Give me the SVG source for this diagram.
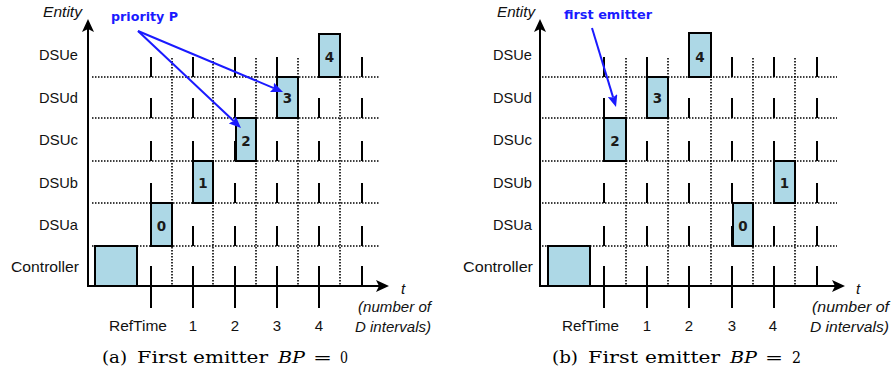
<svg xmlns="http://www.w3.org/2000/svg" width="893" height="375" viewBox="0 0 893 375">
  <style>
    .lbl { font-family: "Liberation Sans", Arial, sans-serif; font-size: 15px; fill: #111; }
    .ital { font-family: "Liberation Sans", Arial, sans-serif; font-style: italic; font-size: 15px; fill: #111; }
    .num { font-family: "DejaVu Sans", Verdana, sans-serif; font-weight: bold; font-size: 13.5px; fill: #1a1a1a; text-anchor: middle; }
    .note { font-family: "DejaVu Sans", Verdana, sans-serif; font-weight: bold; font-size: 12.8px; fill: #1a1aff; }
    .cap { font-family: "DejaVu Serif", "Liberation Serif", serif; font-size: 16px; fill: #000; }
    .mi { font-style: italic; }
    .box { fill: #add8e6; stroke: #000; stroke-width: 2; }
    .tick { stroke: #000; stroke-width: 2; fill: none; }
    .dot { stroke: #000; stroke-width: 1.6; stroke-dasharray: 1.5 1.5; fill: none; }
    .axis { stroke: #000; stroke-width: 2; fill: none; }
    .ptr { stroke: #1a1aff; stroke-width: 2; fill: none; }
  </style>
  <defs>
    <marker id="axhead" viewBox="0 0 13 12" refX="3" refY="6" markerWidth="13" markerHeight="12" markerUnits="userSpaceOnUse" orient="auto">
      <path d="M0,0 L13,6 L0,12 L3,6 Z" fill="#000"/>
    </marker>
    <marker id="bluehead" viewBox="0 0 12 10" refX="2" refY="5" markerWidth="12" markerHeight="10" markerUnits="userSpaceOnUse" orient="auto">
      <path d="M0,0 L12,5 L0,10 L2,5 Z" fill="#1a1aff"/>
    </marker>
  </defs>

  <!-- ===== Panel (a) ===== -->
  <g id="grid-a">
    <!-- row separators -->
    <path class="dot" d="M92,77H380 M92,118H380 M92,161H380 M92,203H380 M92,246H380"/>
    <!-- interval midlines -->
    <path class="dot" d="M172,58V286 M213,58V286 M256,58V286 M298,58V286 M340,58V286"/>
    <!-- slot ticks per row -->
    <path class="tick" d="
      M151,57V77 M193,57V77 M235,57V77 M277,57V77 M319,57V77 M362,57V77
      M151,98V118 M193,98V118 M235,98V118 M277,98V118 M319,98V118 M362,98V118
      M151,141V161 M193,141V161 M235,141V161 M277,141V161 M319,141V161 M362,141V161
      M151,183V203 M193,183V203 M235,183V203 M277,183V203 M319,183V203 M362,183V203
      M151,226V246 M193,226V246 M235,226V246 M277,226V246 M319,226V246 M362,226V246
      M151,266V308 M193,266V308 M235,266V308 M277,266V308 M319,266V308 M362,266V286"/>
  </g>
  <g id="axes-a">
    <line class="axis" x1="88" y1="287" x2="88" y2="29" marker-end="url(#axhead)"/>
    <line class="axis" x1="87" y1="286" x2="379" y2="286" marker-end="url(#axhead)"/>
    <text class="ital" x="43" y="17" font-size="13.5" textLength="39" lengthAdjust="spacingAndGlyphs">Entity</text>
    <text class="ital" x="403" y="294" text-anchor="middle">t</text>
    <text class="ital" x="431" y="312" text-anchor="end" textLength="73" lengthAdjust="spacingAndGlyphs">(number of</text>
    <text class="ital" x="431" y="332" text-anchor="end" textLength="76" lengthAdjust="spacingAndGlyphs">D intervals)</text>
  </g>
  <g id="rows-a">
    <text class="lbl" x="78" y="60" text-anchor="end" textLength="39" lengthAdjust="spacingAndGlyphs">DSUe</text>
    <text class="lbl" x="78" y="103" text-anchor="end" textLength="39" lengthAdjust="spacingAndGlyphs">DSUd</text>
    <text class="lbl" x="78" y="145" text-anchor="end" textLength="39" lengthAdjust="spacingAndGlyphs">DSUc</text>
    <text class="lbl" x="78" y="188" text-anchor="end" textLength="39" lengthAdjust="spacingAndGlyphs">DSUb</text>
    <text class="lbl" x="78" y="230" text-anchor="end" textLength="39" lengthAdjust="spacingAndGlyphs">DSUa</text>
    <text class="lbl" x="79" y="272" text-anchor="end" textLength="68" lengthAdjust="spacingAndGlyphs">Controller</text>
  </g>
  <g id="times-a">
    <text class="lbl" x="109" y="331" textLength="58" lengthAdjust="spacingAndGlyphs">RefTime</text>
    <text class="lbl" x="193" y="331" text-anchor="middle">1</text>
    <text class="lbl" x="235" y="331" text-anchor="middle">2</text>
    <text class="lbl" x="277" y="331" text-anchor="middle">3</text>
    <text class="lbl" x="319" y="331" text-anchor="middle">4</text>
  </g>
  <g id="controller-a"><rect class="box" x="95" y="246" width="42" height="40"/></g>
  <g id="dsua-a"><rect class="box" x="151" y="203" width="21" height="43"/><text class="num" x="161.5" y="231">0</text></g>
  <g id="dsub-a"><rect class="box" x="193" y="161" width="20" height="42"/><text class="num" x="203" y="188">1</text></g>
  <g id="dsuc-a"><rect class="box" x="236" y="118" width="20" height="43"/><text class="num" x="246" y="146">2</text></g>
  <g id="dsud-a"><rect class="box" x="277" y="77" width="21" height="41"/><text class="num" x="287.5" y="103">3</text></g>
  <g id="dsue-a"><rect class="box" x="319" y="34" width="21" height="43"/><text class="num" x="329.5" y="62">4</text></g>
  <g id="note-a">
    <text class="note" x="111" y="21" textLength="67" lengthAdjust="spacingAndGlyphs">priority P</text>
  </g>

  <!-- ===== Panel (b) ===== -->
  <g id="grid-b">
    <path class="dot" d="M542,77H837 M542,118H837 M542,161H837 M542,203H837 M542,246H837"/>
    <path class="dot" d="M626,58V286 M668,58V286 M711,58V286 M753,58V286 M795,58V286"/>
    <path class="tick" d="
      M604,57V77 M647,57V77 M689,57V77 M732,57V77 M774,57V77 M817,57V77
      M604,98V118 M647,98V118 M689,98V118 M732,98V118 M774,98V118 M817,98V118
      M604,141V161 M647,141V161 M689,141V161 M732,141V161 M774,141V161 M817,141V161
      M604,183V203 M647,183V203 M689,183V203 M732,183V203 M774,183V203 M817,183V203
      M604,226V246 M647,226V246 M689,226V246 M732,226V246 M774,226V246 M817,226V246
      M604,266V308 M647,266V308 M689,266V308 M732,266V308 M774,266V308 M817,266V286"/>
  </g>
  <g id="axes-b">
    <line class="axis" x1="540" y1="287" x2="540" y2="29" marker-end="url(#axhead)"/>
    <line class="axis" x1="539" y1="286" x2="835" y2="286" marker-end="url(#axhead)"/>
    <text class="ital" x="497" y="17" font-size="13.5" textLength="38" lengthAdjust="spacingAndGlyphs">Entity</text>
    <text class="ital" x="858" y="294" text-anchor="middle">t</text>
    <text class="ital" x="889" y="312" text-anchor="end" textLength="77" lengthAdjust="spacingAndGlyphs">(number of</text>
    <text class="ital" x="889" y="332" text-anchor="end" textLength="79" lengthAdjust="spacingAndGlyphs">D intervals)</text>
  </g>
  <g id="rows-b">
    <text class="lbl" x="532" y="60" text-anchor="end" textLength="39" lengthAdjust="spacingAndGlyphs">DSUe</text>
    <text class="lbl" x="532" y="103" text-anchor="end" textLength="39" lengthAdjust="spacingAndGlyphs">DSUd</text>
    <text class="lbl" x="532" y="145" text-anchor="end" textLength="39" lengthAdjust="spacingAndGlyphs">DSUc</text>
    <text class="lbl" x="532" y="188" text-anchor="end" textLength="39" lengthAdjust="spacingAndGlyphs">DSUb</text>
    <text class="lbl" x="532" y="230" text-anchor="end" textLength="39" lengthAdjust="spacingAndGlyphs">DSUa</text>
    <text class="lbl" x="533" y="272" text-anchor="end" textLength="70" lengthAdjust="spacingAndGlyphs">Controller</text>
  </g>
  <g id="times-b">
    <text class="lbl" x="562" y="331" textLength="57" lengthAdjust="spacingAndGlyphs">RefTime</text>
    <text class="lbl" x="647" y="331" text-anchor="middle">1</text>
    <text class="lbl" x="689" y="331" text-anchor="middle">2</text>
    <text class="lbl" x="732" y="331" text-anchor="middle">3</text>
    <text class="lbl" x="773" y="331" text-anchor="middle">4</text>
  </g>
  <g id="controller-b"><rect class="box" x="548" y="246" width="42" height="40"/></g>
  <g id="dsua-b"><rect class="box" x="733" y="203" width="20" height="43"/><text class="num" x="743" y="231">0</text></g>
  <g id="dsub-b"><rect class="box" x="774" y="161" width="21" height="42"/><text class="num" x="784.5" y="188">1</text></g>
  <g id="dsuc-b"><rect class="box" x="604" y="118" width="22" height="43"/><text class="num" x="615" y="146">2</text></g>
  <g id="dsud-b"><rect class="box" x="647" y="77" width="21" height="41"/><text class="num" x="657.5" y="103">3</text></g>
  <g id="dsue-b"><rect class="box" x="689" y="33" width="22" height="44"/><text class="num" x="700" y="62">4</text></g>
  <g id="note-b">
    <text class="note" x="564" y="19" textLength="88" lengthAdjust="spacingAndGlyphs">first emitter</text>
  </g>

  <!-- pointers from the notes to the slots -->
  <g id="connectors">
    <line class="ptr" x1="138" y1="31" x2="273.8" y2="88.1" marker-end="url(#bluehead)"/>
    <line class="ptr" x1="138" y1="31" x2="233.7" y2="121.1" marker-end="url(#bluehead)"/>
    <line class="ptr" x1="592" y1="28" x2="613.1" y2="97.4" marker-end="url(#bluehead)"/>
  </g>

  <!-- sub-figure captions, set word by word -->
  <g id="caption-a">
    <text class="cap" x="102" y="363" textLength="25" lengthAdjust="spacingAndGlyphs">(a)</text>
    <text class="cap" x="137" y="363" textLength="50" lengthAdjust="spacingAndGlyphs">First</text>
    <text class="cap" x="193" y="363" textLength="75" lengthAdjust="spacingAndGlyphs">emitter</text>
    <text class="cap mi" x="278" y="363" textLength="27" lengthAdjust="spacingAndGlyphs">BP</text>
    <text class="cap" x="313" y="363" textLength="19" lengthAdjust="spacingAndGlyphs">=</text>
    <text class="cap" x="340" y="363" textLength="8" lengthAdjust="spacingAndGlyphs">0</text>
  </g>
  <g id="caption-b">
    <text class="cap" x="552" y="363" textLength="26" lengthAdjust="spacingAndGlyphs">(b)</text>
    <text class="cap" x="588" y="363" textLength="50" lengthAdjust="spacingAndGlyphs">First</text>
    <text class="cap" x="645" y="363" textLength="75" lengthAdjust="spacingAndGlyphs">emitter</text>
    <text class="cap mi" x="730" y="363" textLength="27" lengthAdjust="spacingAndGlyphs">BP</text>
    <text class="cap" x="765" y="363" textLength="18" lengthAdjust="spacingAndGlyphs">=</text>
    <text class="cap" x="792" y="363" textLength="9" lengthAdjust="spacingAndGlyphs">2</text>
  </g>
</svg>
